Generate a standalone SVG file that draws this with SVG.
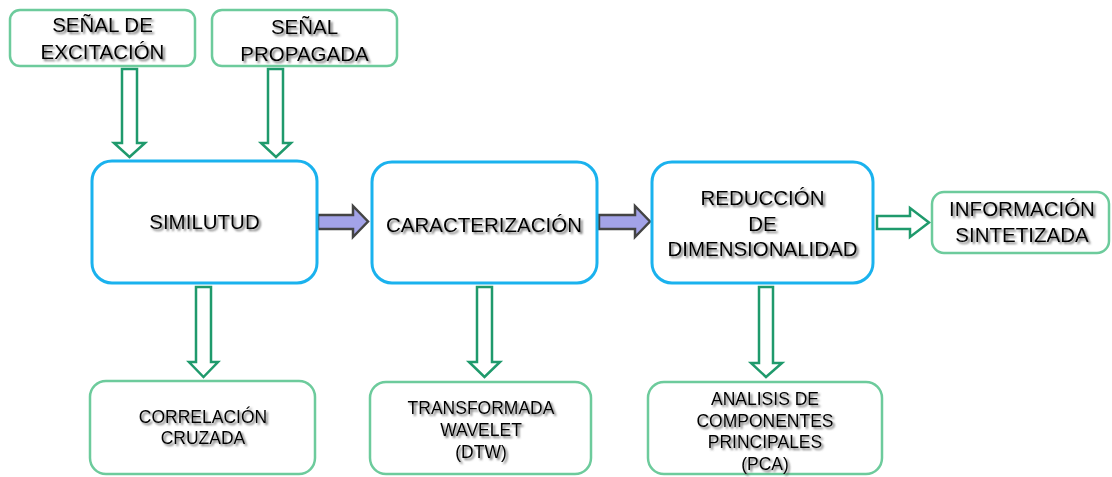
<svg xmlns="http://www.w3.org/2000/svg" width="1112" height="477" viewBox="0 0 1112 477">
<defs>
<filter id="sh" x="-10%" y="-30%" width="120%" height="160%">
<feGaussianBlur in="SourceAlpha" stdDeviation="1.3" result="b"/>
<feOffset in="b" dx="1.5" dy="2" result="o"/>
<feFlood flood-color="#555" flood-opacity="0.85"/>
<feComposite in2="o" operator="in" result="s"/>
<feMerge><feMergeNode in="s"/><feMergeNode in="SourceGraphic"/></feMerge>
</filter>
</defs>
<style>
.main{fill:#fff;stroke:#1ab2ee;stroke-width:3}
.sub{fill:#fff;stroke:#6dcb9c;stroke-width:2.5}
.garr{fill:#fff;stroke:#1f9a6c;stroke-width:2.5;stroke-linejoin:miter}
.parr{fill:#a3a3e8;stroke:#444;stroke-width:2.5}
text{font-family:"Liberation Sans",Arial,sans-serif;fill:#000;text-anchor:middle;filter:url(#sh)}
.t20{font-size:20.5px}
.t17{font-size:17.5px}
</style>
<g id="connectors">
<polygon class="garr" points="122,69 137,69 137,143 145,143 129.5,157 114,143 122,143"/>
<polygon class="garr" points="268,69 283,69 283,143 291,143 276,157 261,143 268,143"/>
<polygon class="parr" points="318,215 353,215 353,206 368,221.5 353,237 353,229 318,229"/>
<polygon class="parr" points="599,215 635,215 635,206 650,221.5 635,237 635,229 599,229"/>
<polygon class="garr" points="877,216 910,216 910,208 929,222.5 910,237 910,229 877,229"/>
<polygon class="garr" points="196,287 211,287 211,362 218,362 203.5,377 189,362 196,362"/>
<polygon class="garr" points="477,287 492,287 492,362 500,362 484.5,377 469,362 477,362"/>
<polygon class="garr" points="759,287 773,287 773,363 782,363 766,377 751,363 759,363"/>
</g>
<g id="excitacion">
<rect class="sub" x="10" y="10" width="185" height="56" rx="10"/>
<text class="t20" x="102.5" y="32">SEÑAL DE</text>
<text class="t20" x="102.5" y="59">EXCITACIÓN</text>
</g>
<g id="propagada">
<rect class="sub" x="212" y="10" width="185" height="56" rx="10"/>
<text class="t20" x="304.5" y="34">SEÑAL</text>
<text class="t20" x="304.5" y="61">PROPAGADA</text>
</g>
<g id="similitud">
<rect class="main" x="92" y="161" width="225" height="122" rx="20"/>
<text class="t20" x="204.5" y="229">SIMILUTUD</text>
</g>
<g id="caracterizacion">
<rect class="main" x="372" y="162" width="225" height="121" rx="20"/>
<text class="t20" x="484" y="232">CARACTERIZACIÓN</text>
</g>
<g id="reduccion">
<rect class="main" x="652" y="162" width="221" height="121" rx="20"/>
<text class="t20" x="762.5" y="205">REDUCCIÓN</text>
<text class="t20" x="762.5" y="231">DE</text>
<text class="t20" x="762.5" y="256">DIMENSIONALIDAD</text>
</g>
<g id="informacion">
<rect class="sub" x="932" y="192" width="177" height="61" rx="12"/>
<text class="t20" x="1022" y="216">INFORMACIÓN</text>
<text class="t20" x="1022" y="242">SINTETIZADA</text>
</g>
<g id="correlacion">
<rect class="sub" x="90" y="381" width="225" height="93" rx="16"/>
<text class="t17" x="203" y="423">CORRELACIÓN</text>
<text class="t17" x="203" y="444">CRUZADA</text>
</g>
<g id="wavelet">
<rect class="sub" x="370" y="382" width="221" height="92" rx="16"/>
<text class="t17" x="481" y="414">TRANSFORMADA</text>
<text class="t17" x="481" y="436">WAVELET</text>
<text class="t17" x="481" y="458">(DTW)</text>
</g>
<g id="pca">
<rect class="sub" x="648" y="382" width="234" height="92" rx="16"/>
<text class="t17" x="765" y="405">ANALISIS DE</text>
<text class="t17" x="765" y="427">COMPONENTES</text>
<text class="t17" x="765" y="448">PRINCIPALES</text>
<text class="t17" x="765" y="470">(PCA)</text>
</g>
</svg>
